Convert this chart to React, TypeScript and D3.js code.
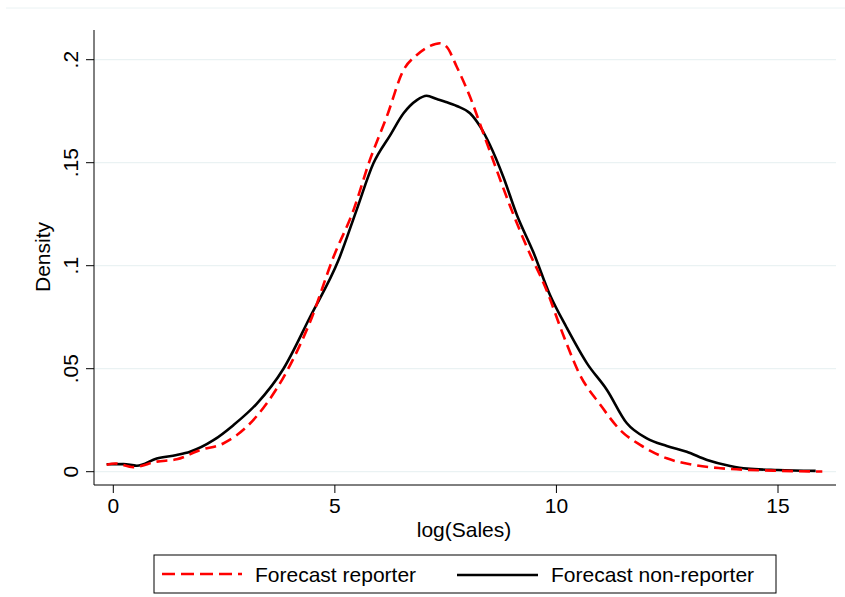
import React from "react";
import * as d3 from "d3";

// log(Sales) grid and density estimates
const reporterX = [-0.15, 0.04, 0.45, 0.98, 1.43, 1.96, 2.48, 3.01, 3.46, 3.91, 4.44, 4.97, 5.42, 5.79, 6.17, 6.55, 6.85, 7.15, 7.37, 7.52, 7.75, 8.05, 8.35, 8.65, 8.96, 9.33, 9.78, 10.16, 10.53, 10.98, 11.44, 11.89, 12.49, 13.09, 13.7, 14.9, 16.0];
const reporterY = [0.0034, 0.004, 0.0022, 0.0049, 0.006, 0.0105, 0.0137, 0.0218, 0.0331, 0.0485, 0.0727, 0.1043, 0.127, 0.1513, 0.1723, 0.195, 0.2023, 0.2067, 0.208, 0.2063, 0.1966, 0.182, 0.1643, 0.1465, 0.1286, 0.1092, 0.088, 0.066, 0.047, 0.0328, 0.0202, 0.013, 0.0065, 0.0033, 0.0017, 0.0005, 0.0001];

const nonReporterX = [-0.15, 0.23, 0.53, 0.98, 1.43, 1.73, 2.26, 2.71, 3.24, 3.84, 4.44, 5.08, 5.49, 5.87, 6.25, 6.55, 6.85, 7.07, 7.3, 7.49, 7.75, 8.05, 8.28, 8.5, 8.8, 9.11, 9.48, 9.86, 10.23, 10.69, 11.14, 11.59, 12.04, 12.49, 12.94, 13.4, 13.92, 14.3, 15.0, 15.85];
const nonReporterY = [0.0036, 0.0037, 0.0029, 0.0064, 0.0081, 0.0097, 0.0153, 0.0226, 0.0331, 0.05, 0.0751, 0.1026, 0.127, 0.1497, 0.1634, 0.174, 0.1804, 0.1825, 0.1809, 0.1796, 0.1775, 0.174, 0.1675, 0.1586, 0.1432, 0.1245, 0.1065, 0.0855, 0.07, 0.0526, 0.0397, 0.0235, 0.0162, 0.0125, 0.0097, 0.0057, 0.0028, 0.0015, 0.0008, 0.0004];

const xTicks = [0, 5, 10, 15];
const yTicks = [0, 0.05, 0.1, 0.15, 0.2];
const yTickLabels = ["0", ".05", ".1", ".15", ".2"];
const legendLabels = ["Forecast reporter", "Forecast non-reporter"];

const W = 845;
const H = 597;
const frame = { left: 94, right: 836, top: 30, bottom: 485 };
const font = "'Liberation Sans', Arial, Helvetica, sans-serif";
const grid = "#eaf2f3";
const dash = "11,6";

export default function App() {
  const x = d3.scaleLinear().domain([0, 15]).range([113.3, 778]);
  const y = d3.scaleLinear().domain([0, 0.2]).range([471.7, 59.7]);

  const line = d3
    .line<[number, number]>()
    .x((d) => x(d[0]))
    .y((d) => y(d[1]))
    .curve(d3.curveMonotoneX);

  const reporter = reporterX.map((v, i) => [v, reporterY[i]] as [number, number]);
  const nonReporter = nonReporterX.map((v, i) => [v, nonReporterY[i]] as [number, number]);

  return (
    <svg
      width={W}
      height={H}
      style={{ position: "absolute", left: 0, top: 0, background: "#fff" }}
      fontFamily={font}
    >
      <rect width={W} height={H} fill="#fff" />
      <line x1={6} x2={W} y1={8} y2={8} stroke={grid} strokeWidth={1} />

      {/* gridlines */}
      {yTicks.map((t) => (
        <line key={t} x1={frame.left} x2={frame.right} y1={y(t)} y2={y(t)} stroke={grid} strokeWidth={1.3} />
      ))}

      {/* density curves */}
      <path d={line(nonReporter) || ""} fill="none" stroke="#000" strokeWidth={2.6} strokeLinejoin="round" />
      <path d={line(reporter) || ""} fill="none" stroke="#ff0000" strokeWidth={2.6} strokeDasharray={dash} />

      {/* axes */}
      <line x1={frame.left} x2={frame.left} y1={frame.top} y2={frame.bottom} stroke="#000" strokeWidth={1} />
      <line x1={frame.left} x2={frame.right} y1={frame.bottom} y2={frame.bottom} stroke="#000" strokeWidth={1} />

      {yTicks.map((t, i) => (
        <g key={t}>
          <line x1={frame.left - 8} x2={frame.left} y1={y(t)} y2={y(t)} stroke="#000" />
          <text
            transform={`translate(78,${y(t)}) rotate(-90)`}
            textAnchor="middle"
            fontSize={21}
            fill="#000"
          >
            {yTickLabels[i]}
          </text>
        </g>
      ))}

      {xTicks.map((t) => (
        <g key={t}>
          <line x1={x(t)} x2={x(t)} y1={frame.bottom} y2={frame.bottom + 8} stroke="#000" />
          <text x={x(t)} y={513} textAnchor="middle" fontSize={21} fill="#000">
            {t}
          </text>
        </g>
      ))}

      <text x={464} y={537} textAnchor="middle" fontSize={21} fill="#000">
        log(Sales)
      </text>
      <text transform="translate(50,257) rotate(-90)" textAnchor="middle" fontSize={21} fill="#000">
        Density
      </text>

      {/* legend */}
      <rect x={154} y={555} width={622} height={38} fill="#fff" stroke="#000" strokeWidth={1} />
      <line x1={162} x2={242} y1={574} y2={574} stroke="#ff0000" strokeWidth={2.6} strokeDasharray="13,6" />
      <text x={255} y={581.5} fontSize={21} fill="#000">
        {legendLabels[0]}
      </text>
      <line x1={457} x2={538} y1={575} y2={575} stroke="#000" strokeWidth={2.6} />
      <text x={551} y={581.5} fontSize={21} fill="#000">
        {legendLabels[1]}
      </text>
    </svg>
  );
}
